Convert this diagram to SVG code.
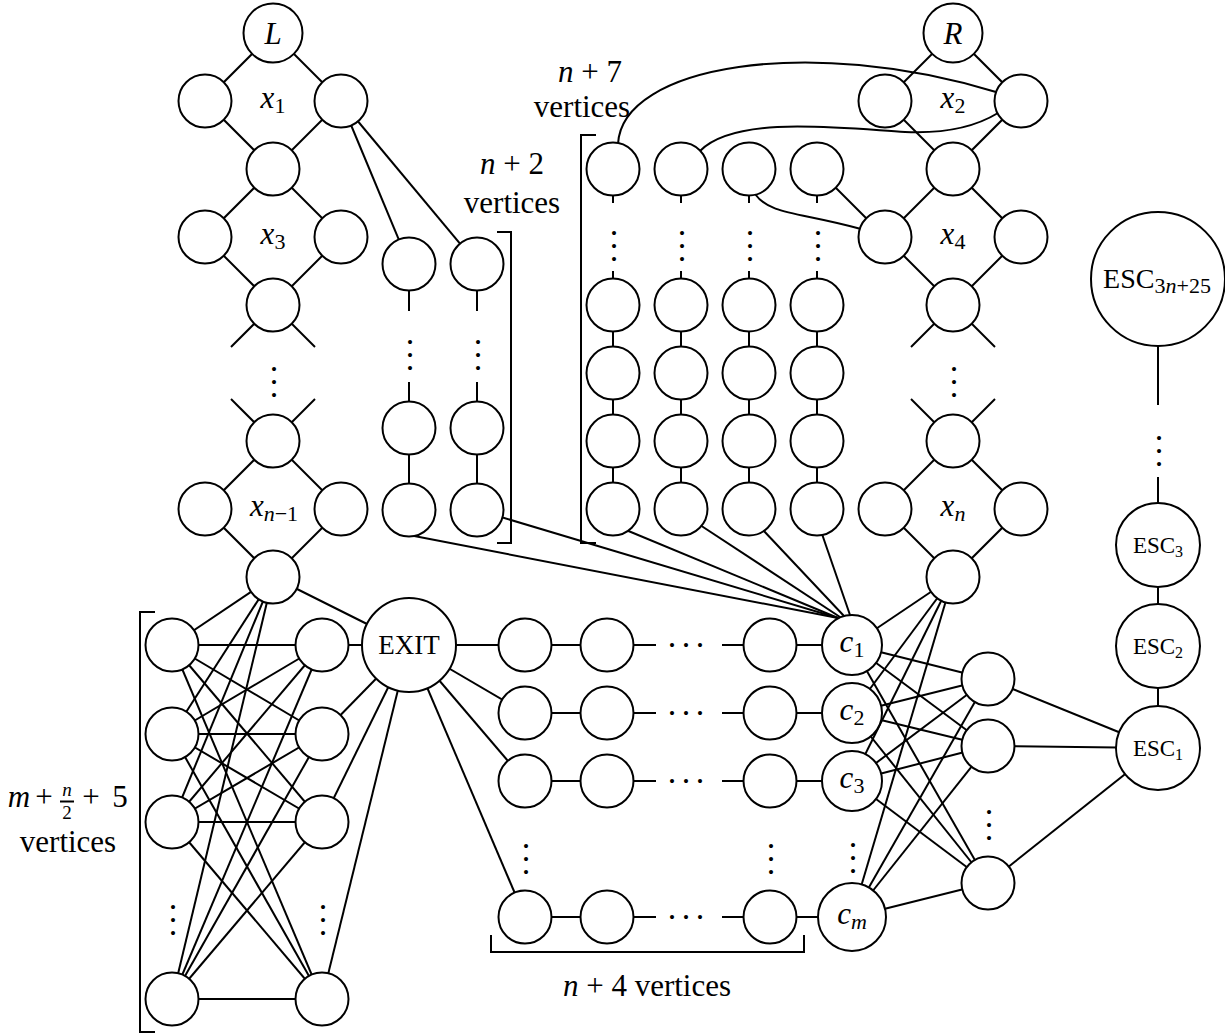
<svg xmlns="http://www.w3.org/2000/svg" width="1225" height="1036" viewBox="0 0 1225 1036">
<style>
.e line,.e path{stroke:#000;stroke-width:2;fill:none}
.n circle{fill:#fff;stroke:#000;stroke-width:2}
.t{font-family:"Liberation Serif",serif;font-size:31px;fill:#000}
.i{font-style:italic}
.dt{font-family:"Liberation Serif",serif;font-size:34px;fill:#000;letter-spacing:4.5px}
.dh{letter-spacing:5.5px}
.br{stroke:#000;stroke-width:2;fill:none}
</style>
<rect width="1225" height="1036" fill="#fff"/>
<g id="connectors" class="e">
<line x1="273" y1="33" x2="205" y2="101"/><line x1="273" y1="33" x2="341" y2="101"/>
<line x1="205" y1="101" x2="273" y2="169"/><line x1="341" y1="101" x2="273" y2="169"/>
<line x1="273" y1="169" x2="205" y2="237"/><line x1="273" y1="169" x2="341" y2="237"/>
<line x1="205" y1="237" x2="273" y2="305"/><line x1="341" y1="237" x2="273" y2="305"/>
<line x1="273" y1="305" x2="231" y2="347"/><line x1="273" y1="305" x2="315" y2="347"/>
<line x1="231" y1="399" x2="273" y2="441"/><line x1="315" y1="399" x2="273" y2="441"/>
<line x1="273" y1="441" x2="205" y2="509"/><line x1="273" y1="441" x2="341" y2="509"/>
<line x1="205" y1="509" x2="273" y2="577"/><line x1="341" y1="509" x2="273" y2="577"/>
<line x1="953" y1="33" x2="885" y2="101"/><line x1="953" y1="33" x2="1021" y2="101"/>
<line x1="885" y1="101" x2="953" y2="169"/><line x1="1021" y1="101" x2="953" y2="169"/>
<line x1="953" y1="169" x2="885" y2="237"/><line x1="953" y1="169" x2="1021" y2="237"/>
<line x1="885" y1="237" x2="953" y2="305"/><line x1="1021" y1="237" x2="953" y2="305"/>
<line x1="953" y1="305" x2="911" y2="347"/><line x1="953" y1="305" x2="995" y2="347"/>
<line x1="911" y1="399" x2="953" y2="441"/><line x1="995" y1="399" x2="953" y2="441"/>
<line x1="953" y1="441" x2="885" y2="509"/><line x1="953" y1="441" x2="1021" y2="509"/>
<line x1="885" y1="509" x2="953" y2="577"/><line x1="1021" y1="509" x2="953" y2="577"/>
<line x1="341" y1="101" x2="409" y2="264"/><line x1="341" y1="101" x2="477" y2="264"/>
<line x1="409" y1="290" x2="409" y2="311"/><line x1="409" y1="382" x2="409" y2="402"/><line x1="409" y1="428" x2="409" y2="510"/>
<line x1="477" y1="290" x2="477" y2="311"/><line x1="477" y1="382" x2="477" y2="402"/><line x1="477" y1="428" x2="477" y2="510"/>
<line x1="613" y1="195" x2="613" y2="203"/><line x1="613" y1="271" x2="613" y2="279"/><line x1="613" y1="305" x2="613" y2="373"/><line x1="613" y1="373" x2="613" y2="441"/><line x1="613" y1="441" x2="613" y2="509"/>
<line x1="681" y1="195" x2="681" y2="203"/><line x1="681" y1="271" x2="681" y2="279"/><line x1="681" y1="305" x2="681" y2="373"/><line x1="681" y1="373" x2="681" y2="441"/><line x1="681" y1="441" x2="681" y2="509"/>
<line x1="749" y1="195" x2="749" y2="203"/><line x1="749" y1="271" x2="749" y2="279"/><line x1="749" y1="305" x2="749" y2="373"/><line x1="749" y1="373" x2="749" y2="441"/><line x1="749" y1="441" x2="749" y2="509"/>
<line x1="817" y1="195" x2="817" y2="203"/><line x1="817" y1="271" x2="817" y2="279"/><line x1="817" y1="305" x2="817" y2="373"/><line x1="817" y1="373" x2="817" y2="441"/><line x1="817" y1="441" x2="817" y2="509"/>
<path d="M618 144 C622 65 810 35 996 92"/>
<path d="M700 151 C735 115 840 128 905 132 C950 134 980 124 998 113"/>
<path d="M755 194 C770 215 800 212 861 229"/>
<line x1="817" y1="169" x2="885" y2="237"/>
<line x1="409" y1="535" x2="838" y2="618"/>
<line x1="501" y1="517" x2="838" y2="618"/>
<line x1="626" y1="530" x2="838" y2="618"/>
<line x1="700" y1="525" x2="840" y2="617"/>
<line x1="763" y1="530" x2="844" y2="616"/>
<line x1="822" y1="534" x2="850" y2="615"/>
<line x1="852" y1="645" x2="953" y2="577"/><line x1="852" y1="713" x2="953" y2="577"/><line x1="852" y1="781" x2="953" y2="577"/><line x1="852" y1="917" x2="953" y2="577"/>
<line x1="852" y1="645" x2="988" y2="679"/><line x1="852" y1="645" x2="988" y2="746"/><line x1="852" y1="645" x2="988" y2="883"/>
<line x1="852" y1="713" x2="988" y2="679"/><line x1="852" y1="713" x2="988" y2="746"/><line x1="852" y1="713" x2="988" y2="883"/>
<line x1="852" y1="781" x2="988" y2="679"/><line x1="852" y1="781" x2="988" y2="746"/><line x1="852" y1="781" x2="988" y2="883"/>
<line x1="852" y1="917" x2="988" y2="679"/><line x1="852" y1="917" x2="988" y2="746"/><line x1="852" y1="917" x2="988" y2="883"/>
<line x1="988" y1="679" x2="1158" y2="748"/><line x1="988" y1="746" x2="1158" y2="748"/><line x1="988" y1="883" x2="1158" y2="748"/>
<line x1="1158" y1="748" x2="1158" y2="646"/><line x1="1158" y1="646" x2="1158" y2="545"/>
<line x1="1158" y1="503" x2="1158" y2="477"/><line x1="1158" y1="346" x2="1158" y2="405"/>
<line x1="409" y1="645" x2="525" y2="645"/><line x1="525" y1="645" x2="607" y2="645"/><line x1="607" y1="645" x2="656" y2="645"/><line x1="722" y1="645" x2="770" y2="645"/><line x1="770" y1="645" x2="852" y2="645"/>
<line x1="409" y1="645" x2="525" y2="713"/><line x1="525" y1="713" x2="607" y2="713"/><line x1="607" y1="713" x2="656" y2="713"/><line x1="722" y1="713" x2="770" y2="713"/><line x1="770" y1="713" x2="852" y2="713"/>
<line x1="409" y1="645" x2="525" y2="781"/><line x1="525" y1="781" x2="607" y2="781"/><line x1="607" y1="781" x2="656" y2="781"/><line x1="722" y1="781" x2="770" y2="781"/><line x1="770" y1="781" x2="852" y2="781"/>
<line x1="409" y1="645" x2="525" y2="917"/><line x1="525" y1="917" x2="607" y2="917"/><line x1="607" y1="917" x2="656" y2="917"/><line x1="722" y1="917" x2="770" y2="917"/><line x1="770" y1="917" x2="852" y2="917"/>
<line x1="273" y1="577" x2="409" y2="645"/>
<line x1="273" y1="577" x2="172" y2="645"/><line x1="273" y1="577" x2="172" y2="734"/><line x1="273" y1="577" x2="172" y2="822"/><line x1="273" y1="577" x2="172" y2="999"/>
<line x1="172" y1="645" x2="322" y2="645"/><line x1="172" y1="645" x2="322" y2="734"/><line x1="172" y1="645" x2="322" y2="822"/><line x1="172" y1="645" x2="322" y2="999"/>
<line x1="172" y1="734" x2="322" y2="645"/><line x1="172" y1="734" x2="322" y2="734"/><line x1="172" y1="734" x2="322" y2="822"/><line x1="172" y1="734" x2="322" y2="999"/>
<line x1="172" y1="822" x2="322" y2="645"/><line x1="172" y1="822" x2="322" y2="734"/><line x1="172" y1="822" x2="322" y2="822"/><line x1="172" y1="822" x2="322" y2="999"/>
<line x1="172" y1="999" x2="322" y2="645"/><line x1="172" y1="999" x2="322" y2="734"/><line x1="172" y1="999" x2="322" y2="822"/><line x1="172" y1="999" x2="322" y2="999"/>
<line x1="322" y1="645" x2="409" y2="645"/><line x1="322" y1="734" x2="409" y2="645"/><line x1="322" y1="822" x2="409" y2="645"/><line x1="322" y1="999" x2="409" y2="645"/>
</g>
<g class="n t">
<g id="L"><circle cx="273" cy="33" r="29.5"/><text x="273" y="44" class="i" text-anchor="middle">L</text></g>
<g id="Lx1a"><circle cx="205" cy="101" r="26.5"/></g>
<g id="Lx1b"><circle cx="341" cy="101" r="26.5"/></g>
<g id="Lm1"><circle cx="273" cy="169" r="26.5"/></g>
<g id="Lx3a"><circle cx="205" cy="237" r="26.5"/></g>
<g id="Lx3b"><circle cx="341" cy="237" r="26.5"/></g>
<g id="Lm2"><circle cx="273" cy="305" r="26.5"/></g>
<g id="Lm3"><circle cx="273" cy="441" r="26.5"/></g>
<g id="Lxna"><circle cx="205" cy="509" r="26.5"/></g>
<g id="Lxnb"><circle cx="341" cy="509" r="26.5"/></g>
<g id="Lm4"><circle cx="273" cy="577" r="26.5"/></g>
<g id="R"><circle cx="953" cy="33" r="29.5"/><text x="953" y="44" class="i" text-anchor="middle">R</text></g>
<g id="Rx2a"><circle cx="885" cy="101" r="26.5"/></g>
<g id="Rx2b"><circle cx="1021" cy="101" r="26.5"/></g>
<g id="Rm1"><circle cx="953" cy="169" r="26.5"/></g>
<g id="Rx4a"><circle cx="885" cy="237" r="26.5"/></g>
<g id="Rx4b"><circle cx="1021" cy="237" r="26.5"/></g>
<g id="Rm2"><circle cx="953" cy="305" r="26.5"/></g>
<g id="Rm3"><circle cx="953" cy="441" r="26.5"/></g>
<g id="Rxna"><circle cx="885" cy="509" r="26.5"/></g>
<g id="Rxnb"><circle cx="1021" cy="509" r="26.5"/></g>
<g id="Rm4"><circle cx="953" cy="577" r="26.5"/></g>
<g id="A1"><circle cx="409" cy="264" r="26.5"/></g>
<g id="A2"><circle cx="409" cy="428" r="26.5"/></g>
<g id="A3"><circle cx="409" cy="510" r="26.5"/></g>
<g id="B1"><circle cx="477" cy="264" r="26.5"/></g>
<g id="B2"><circle cx="477" cy="428" r="26.5"/></g>
<g id="B3"><circle cx="477" cy="510" r="26.5"/></g>
<g id="K11"><circle cx="613" cy="169" r="26.5"/></g>
<g id="K12"><circle cx="613" cy="305" r="26.5"/></g>
<g id="K13"><circle cx="613" cy="373" r="26.5"/></g>
<g id="K14"><circle cx="613" cy="441" r="26.5"/></g>
<g id="K15"><circle cx="613" cy="509" r="26.5"/></g>
<g id="K21"><circle cx="681" cy="169" r="26.5"/></g>
<g id="K22"><circle cx="681" cy="305" r="26.5"/></g>
<g id="K23"><circle cx="681" cy="373" r="26.5"/></g>
<g id="K24"><circle cx="681" cy="441" r="26.5"/></g>
<g id="K25"><circle cx="681" cy="509" r="26.5"/></g>
<g id="K31"><circle cx="749" cy="169" r="26.5"/></g>
<g id="K32"><circle cx="749" cy="305" r="26.5"/></g>
<g id="K33"><circle cx="749" cy="373" r="26.5"/></g>
<g id="K34"><circle cx="749" cy="441" r="26.5"/></g>
<g id="K35"><circle cx="749" cy="509" r="26.5"/></g>
<g id="K41"><circle cx="817" cy="169" r="26.5"/></g>
<g id="K42"><circle cx="817" cy="305" r="26.5"/></g>
<g id="K43"><circle cx="817" cy="373" r="26.5"/></g>
<g id="K44"><circle cx="817" cy="441" r="26.5"/></g>
<g id="K45"><circle cx="817" cy="509" r="26.5"/></g>
<g id="P1"><circle cx="172" cy="645" r="26.5"/></g>
<g id="P2"><circle cx="172" cy="734" r="26.5"/></g>
<g id="P3"><circle cx="172" cy="822" r="26.5"/></g>
<g id="P4"><circle cx="172" cy="999" r="26.5"/></g>
<g id="Q1"><circle cx="322" cy="645" r="26.5"/></g>
<g id="Q2"><circle cx="322" cy="734" r="26.5"/></g>
<g id="Q3"><circle cx="322" cy="822" r="26.5"/></g>
<g id="Q4"><circle cx="322" cy="999" r="26.5"/></g>
<g id="EXIT"><circle cx="409" cy="645" r="47"/><text x="409" y="654" font-size="27" text-anchor="middle">EXIT</text></g>
<g id="W11"><circle cx="525" cy="645" r="26.5"/></g>
<g id="W12"><circle cx="607" cy="645" r="26.5"/></g>
<g id="W13"><circle cx="770" cy="645" r="26.5"/></g>
<g id="W21"><circle cx="525" cy="713" r="26.5"/></g>
<g id="W22"><circle cx="607" cy="713" r="26.5"/></g>
<g id="W23"><circle cx="770" cy="713" r="26.5"/></g>
<g id="W31"><circle cx="525" cy="781" r="26.5"/></g>
<g id="W32"><circle cx="607" cy="781" r="26.5"/></g>
<g id="W33"><circle cx="770" cy="781" r="26.5"/></g>
<g id="W41"><circle cx="525" cy="917" r="26.5"/></g>
<g id="W42"><circle cx="607" cy="917" r="26.5"/></g>
<g id="W43"><circle cx="770" cy="917" r="26.5"/></g>
<g id="C1"><circle cx="852" cy="645" r="30"/><text x="852" y="652" text-anchor="middle"><tspan class="i">c</tspan><tspan font-size="22" dy="5">1</tspan></text></g>
<g id="C2"><circle cx="852" cy="713" r="30"/><text x="852" y="720" text-anchor="middle"><tspan class="i">c</tspan><tspan font-size="22" dy="5">2</tspan></text></g>
<g id="C3"><circle cx="852" cy="781" r="30"/><text x="852" y="788" text-anchor="middle"><tspan class="i">c</tspan><tspan font-size="22" dy="5">3</tspan></text></g>
<g id="Cm"><circle cx="852" cy="917" r="34"/><text x="852" y="924" text-anchor="middle"><tspan class="i">c</tspan><tspan class="i" font-size="22" dy="5">m</tspan></text></g>
<g id="M1"><circle cx="988" cy="679" r="26.5"/></g>
<g id="M2"><circle cx="988" cy="746" r="26.5"/></g>
<g id="M3"><circle cx="988" cy="883" r="26.5"/></g>
<g id="ESC1"><circle cx="1158" cy="748" r="42"/><text x="1158" y="756" font-size="23" text-anchor="middle">ESC<tspan font-size="16" dy="4">1</tspan></text></g>
<g id="ESC2"><circle cx="1158" cy="646" r="42"/><text x="1158" y="654" font-size="23" text-anchor="middle">ESC<tspan font-size="16" dy="4">2</tspan></text></g>
<g id="ESC3"><circle cx="1158" cy="545" r="42"/><text x="1158" y="553" font-size="23" text-anchor="middle">ESC<tspan font-size="16" dy="4">3</tspan></text></g>
<g id="ESCbig"><circle cx="1158" cy="279" r="67"/><text x="1157" y="288" font-size="28" text-anchor="middle">ESC<tspan font-size="22" dy="5">3<tspan class="i">n</tspan>+25</tspan></text></g>
</g>
<g id="labels" class="t">
<text x="273" y="108" text-anchor="middle"><tspan class="i">x</tspan><tspan font-size="22" dy="5">1</tspan></text>
<text x="273" y="244" text-anchor="middle"><tspan class="i">x</tspan><tspan font-size="22" dy="5">3</tspan></text>
<text x="274" y="516" text-anchor="middle"><tspan class="i">x</tspan><tspan font-size="22" dy="5"><tspan class="i">n</tspan>−1</tspan></text>
<text x="953" y="108" text-anchor="middle"><tspan class="i">x</tspan><tspan font-size="22" dy="5">2</tspan></text>
<text x="953" y="244" text-anchor="middle"><tspan class="i">x</tspan><tspan font-size="22" dy="5">4</tspan></text>
<text x="953" y="516" text-anchor="middle"><tspan class="i">x</tspan><tspan class="i" font-size="22" dy="5">n</tspan></text>
<text x="590" y="82" text-anchor="middle"><tspan class="i">n</tspan> + 7</text>
<text x="582" y="117" text-anchor="middle">vertices</text>
<text x="512" y="174" text-anchor="middle"><tspan class="i">n</tspan> + 2</text>
<text x="512" y="213" text-anchor="middle">vertices</text>
<text x="647" y="996" text-anchor="middle"><tspan class="i">n</tspan> + 4 vertices</text>
<text x="19" y="807" class="i" text-anchor="middle">m</text>
<text x="44" y="807" text-anchor="middle">+</text>
<text x="67" y="796" class="i" font-size="19" text-anchor="middle">n</text>
<line x1="60" y1="801.5" x2="74" y2="801.5" class="br" stroke-width="1.3"/>
<text x="67" y="819" font-size="19" text-anchor="middle">2</text>
<text x="91" y="807" text-anchor="middle">+</text>
<text x="120" y="807" text-anchor="middle">5</text>
<text x="68" y="852" text-anchor="middle">vertices</text>
<path class="br" d="M497 232 H511 V543 H497"/>
<path class="br" d="M596 135 H581 V543 H596"/>
<path class="br" d="M155 612 H140 V1032 H155"/>
<path class="br" d="M491 935 V952 H804 V935"/>
</g>
<g id="dots" class="dt">
<text transform="translate(271.5,364.7) rotate(90)">...</text>
<text transform="translate(951.5,364.7) rotate(90)">...</text>
<text transform="translate(407.5,337.7) rotate(90)">...</text>
<text transform="translate(475.5,337.7) rotate(90)">...</text>
<text transform="translate(611.5,228.7) rotate(90)">...</text>
<text transform="translate(679.5,228.7) rotate(90)">...</text>
<text transform="translate(747.5,228.7) rotate(90)">...</text>
<text transform="translate(815.5,228.7) rotate(90)">...</text>
<text transform="translate(1156.5,433.7) rotate(90)">...</text>
<text transform="translate(523.5,841.7) rotate(90)">...</text>
<text transform="translate(768.5,841.7) rotate(90)">...</text>
<text transform="translate(850.5,840.7) rotate(90)">...</text>
<text transform="translate(986.5,807.7) rotate(90)">...</text>
<text transform="translate(170.5,902.7) rotate(90)">...</text>
<text transform="translate(320.5,902.7) rotate(90)">...</text>
<text class="dh" x="667.7" y="646.5">...</text>
<text class="dh" x="667.7" y="714.5">...</text>
<text class="dh" x="667.7" y="782.5">...</text>
<text class="dh" x="667.7" y="918.5">...</text>
</g>
</svg>
